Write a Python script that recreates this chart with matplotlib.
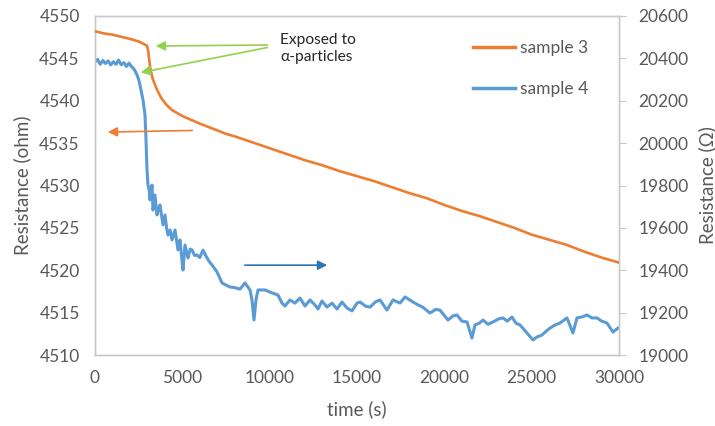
import matplotlib
matplotlib.use("Agg")
import matplotlib.pyplot as plt

# ---- data ----
t3 = [0, 500, 1000, 1500, 2000, 2500, 2977, 3050, 3150, 3300, 3550, 3800, 4100, 4408,
      5000, 5553, 6000, 6500, 7000, 7500, 8000, 9000, 10000, 11000, 12000, 13000,
      14000, 15000, 16000, 17000, 18000, 19000, 20000, 21000, 22000, 23000, 24000, 25000,
      26000, 27000, 28000, 29000, 30000]
r3 = [4548.2, 4547.95, 4547.8, 4547.55, 4547.3, 4547.0, 4546.5, 4545.8, 4544.0, 4542.6,
      4541.3, 4540.3, 4539.5, 4538.9, 4538.2, 4537.7, 4537.3, 4536.9, 4536.5, 4536.1,
      4535.8, 4535.1, 4534.4, 4533.7, 4533.0, 4532.4, 4531.7, 4531.1, 4530.5, 4529.8,
      4529.1, 4528.5, 4527.7, 4527.0, 4526.4, 4525.7, 4525.0, 4524.2, 4523.6, 4523.0,
      4522.2, 4521.5, 4520.9]

sample4_points = [
    (0, 20383), (150, 20395), (300, 20372), (450, 20390), (600, 20376), (750, 20388),
    (900, 20369), (1050, 20384), (1200, 20372), (1350, 20392), (1500, 20370), (1650, 20380),
    (1800, 20362), (1950, 20378), (2100, 20360), (2176, 20355), (2300, 20340), (2405, 20322),
    (2500, 20300), (2576, 20274), (2660, 20240), (2748, 20204), (2863, 20133), (2920, 20015),
    (2977, 19873), (3034, 19802), (3100, 19780), (3149, 19732), (3263, 19802), (3321, 19684),
    (3435, 19755), (3550, 19661), (3640, 19690), (3721, 19708), (3893, 19614), (4008, 19661),
    (4100, 19600), (4179, 19566), (4300, 19590), (4408, 19543), (4580, 19590), (4752, 19496),
    (4866, 19543), (4950, 19470), (5038, 19401), (5153, 19519), (5324, 19458), (5450, 19500),
    (5553, 19496), (5700, 19470), (5840, 19472), (6000, 19460), (6183, 19495), (6412, 19458),
    (6550, 19440), (6698, 19425), (6985, 19392), (7271, 19340), (7500, 19330), (7729, 19321),
    (8000, 19318), (8301, 19311), (8588, 19340), (8874, 19307), (8988, 19260), (9103, 19165),
    (9217, 19260), (9332, 19307), (9733, 19307), (10133, 19293), (10477, 19283), (10706, 19245),
    (10878, 19231), (11164, 19260), (11450, 19245), (11736, 19269), (12023, 19231), (12309, 19260),
    (12595, 19236), (12767, 19217), (12996, 19255), (13282, 19226), (13568, 19245), (13855, 19217),
    (14141, 19250), (14427, 19222), (14713, 19208), (15000, 19245), (15171, 19250), (15500, 19230),
    (15744, 19226), (16050, 19250), (16316, 19260), (16717, 19212), (17061, 19260), (17461, 19245),
    (17748, 19274), (18206, 19250), (18500, 19236), (18778, 19225), (19179, 19198), (19500, 19215),
    (19751, 19212), (20209, 19165), (20500, 19185), (20725, 19189), (21000, 19160), (21297, 19156),
    (21583, 19080), (21755, 19142), (22000, 19150), (22213, 19165), (22500, 19145), (22786, 19156),
    (23100, 19170), (23358, 19175), (23600, 19160), (23873, 19179), (24100, 19150), (24331, 19142),
    (24732, 19104), (25076, 19071), (25300, 19085), (25591, 19094), (25800, 19110), (26049, 19127),
    (26300, 19140), (26621, 19151), (27022, 19175), (27365, 19104), (27595, 19175), (27900, 19180),
    (28167, 19189), (28450, 19175), (28740, 19175), (29000, 19160), (29312, 19151), (29656, 19108),
    (29942, 19127),
]
t4 = [p[0] for p in sample4_points]
r4 = [p[1] for p in sample4_points]

xticks = [0, 5000, 10000, 15000, 20000, 25000, 30000]
lticks = [4510, 4515, 4520, 4525, 4530, 4535, 4540, 4545, 4550]
rticks = [19000, 19200, 19400, 19600, 19800, 20000, 20200, 20400, 20600]

ORANGE = "#ED7D31"
BLUE = "#5B9BD5"
GRAY = "#595959"
SPINE = "#C8C8C8"

plt.rcParams['font.family'] = ['Lato', 'DejaVu Sans']

fig = plt.figure(figsize=(7.15, 4.26), dpi=100)
ax = fig.add_axes([95/715, 1-355/426, 524/715, 339/426])
ax2 = ax.twinx()

l3, = ax.plot(t3, r3, color=ORANGE, lw=1.9, label="sample 3", zorder=3)
l4, = ax2.plot(t4, r4, color=BLUE, lw=2.2, label="sample 4", zorder=2)

ax.set_xlim(0, 30000)
ax.set_ylim(4510, 4550)
ax2.set_ylim(19000, 20600)
ax.set_xticks(xticks)
ax.set_yticks(lticks)
ax2.set_yticks(rticks)

for a in (ax, ax2):
    for s in a.spines.values():
        s.set_color(SPINE)
        s.set_linewidth(1.0)

ax.tick_params(axis='both', length=0, labelsize=12.5, labelcolor=GRAY)
ax.tick_params(axis='y', pad=11)
ax.tick_params(axis='x', pad=11)
ax2.tick_params(axis='y', length=5, color=SPINE, labelsize=12.5, labelcolor=GRAY, pad=9)

ax.set_xlabel("time (s)", fontsize=13.5, color=GRAY, labelpad=10)
ax.set_ylabel("Resistance (ohm)", fontsize=13.5, color=GRAY, labelpad=6)
ax2.set_ylabel("Resistance (Ω)", fontsize=13.5, color=GRAY, labelpad=7)

ax.set_zorder(ax2.get_zorder() + 1)
ax.patch.set_visible(False)

leg = ax.legend(handles=[l3, l4], loc='upper left',
                bbox_to_anchor=(473/715, 1-40/426), bbox_transform=fig.transFigure,
                borderaxespad=0, borderpad=0,
                frameon=False, fontsize=12.5, labelcolor=GRAY, handlelength=2.4,
                handletextpad=0.3, labelspacing=1.45)
for h in leg.legend_handles:
    h.set_linewidth(2.5)

# annotations
ax.text(10591, 4546.2, "Exposed to\nα-particles", fontsize=11.2, color="#262626",
        ha='left', va='center', linespacing=1.3)
GREEN = "#92D050"
ax.annotate("", xy=(3320, 4546.46), xytext=(10019, 4546.58),
            arrowprops=dict(arrowstyle="-|>", color=GREEN, lw=1.2, mutation_scale=14))
ax.annotate("", xy=(2462, 4543.27), xytext=(10019, 4546.34),
            arrowprops=dict(arrowstyle="-|>", color=GREEN, lw=1.2, mutation_scale=14))
ax.annotate("", xy=(572, 4536.3), xytext=(5725, 4536.5),
            arrowprops=dict(arrowstyle="-|>", color=ORANGE, lw=1.2, mutation_scale=14))
ax.annotate("", xy=(13454, 4520.6), xytext=(8416, 4520.6),
            arrowprops=dict(arrowstyle="-|>", color="#2E75B6", lw=1.2, mutation_scale=14))

fig.savefig("out.png", dpi=100)
